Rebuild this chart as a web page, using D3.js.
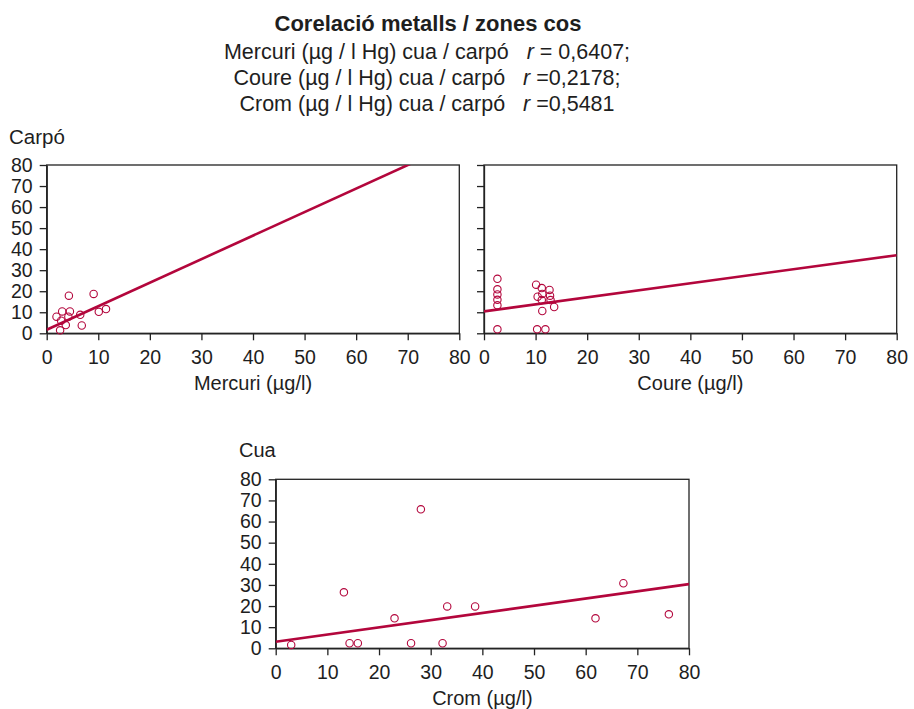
<!doctype html>
<html lang="ca">
<head>
  <meta charset="utf-8">
  <title>Corelació metalls / zones cos</title>
  <script src="https://d3js.org/d3.v7.min.js"></script>
  <style>
    body { margin: 0; background: #fff; }
    svg text { font-family: "Liberation Sans", Arial, sans-serif; fill: #1e1e1e; }
  </style>
</head>
<body>
  <div id="chart"></div>
  <script type="text/javascript">

    var width = 914, height = 709;

    // values
    var ticks = [0, 10, 20, 30, 40, 50, 60, 70, 80];

    var mercuriX = [1.9, 3.0, 4.5, 4.2, 2.8, 3.7, 2.6, 6.5, 6.8, 9.1, 4.3, 10.1, 11.5];
    var mercuriY = [7.9, 10.4, 10.4, 7.9, 6.0, 3.9, 1.4, 8.8, 3.7, 18.7, 17.9, 10.2, 11.5];

    var coureX = [2.6, 2.6, 2.6, 2.6, 2.6, 2.6, 10.1, 10.4, 11.2, 11.3, 11.2, 12.7, 12.8, 12.9, 13.6, 11.3, 10.3, 11.9];
    var coureY = [25.9, 20.9, 18.5, 15.9, 13.3, 1.9, 23.1, 17.4, 21.5, 18.7, 15.8, 20.6, 17.9, 15.8, 12.5, 10.6, 1.9, 1.9];

    var cromX = [3.0, 13.2, 14.3, 15.9, 23.0, 26.2, 28.1, 32.3, 33.2, 38.6, 61.9, 67.3, 76.1];
    var cromY = [1.6, 26.5, 2.4, 2.4, 14.2, 2.4, 65.8, 2.4, 19.8, 19.8, 14.2, 30.8, 16.1];

    // regression lines: carpó/cua = intercept + slope * x
    var intercepts = [1.7, 10.4, 3.1];
    var slopes = [1.118, 0.334, 0.341];

    var xLabels = ['Mercuri (µg/l)', 'Coure (µg/l)', 'Crom (µg/l)'];

    var red = '#b3063c', ink = '#222';

    var svg = d3.select('#chart')
                .append('svg')
                .attr('width', width)
                .attr('height', height);

    // titles
    svg.append('text')
       .attr('x', 428).attr('y', 31)
       .attr('text-anchor', 'middle')
       .style('font-size', '22px')
       .style('font-weight', 'bold')
       .text('Corelació metalls / zones cos');

    var sub = [['Mercuri (µg / l Hg) cua / carpó   ', 'r', ' = 0,6407;'],
               ['Coure (µg / l Hg) cua / carpó   ', 'r', ' =0,2178;'],
               ['Crom (µg / l Hg) cua / carpó   ', 'r', ' =0,5481']];
    sub.forEach(function(s, i) {
      var t = svg.append('text')
                 .attr('x', 427).attr('y', 58.5 + i * 26.3)
                 .attr('text-anchor', 'middle')
                 .style('font-size', '21.5px')
                 .attr('xml:space', 'preserve');
      t.append('tspan').text(s[0]);
      t.append('tspan').style('font-style', 'italic').text(s[1]);
      t.append('tspan').text(s[2]);
    });

    // one panel per metal
    var panels = [
      {left: 46.7, right: 459.3, top: 165, bottom: 333.3, xs: mercuriX, ys: mercuriY, yLabels: true},
      {left: 484, right: 896.7, top: 165, bottom: 333.3, xs: coureX, ys: coureY, yLabels: false},
      {left: 275.7, right: 689, top: 479.3, bottom: 648.3, xs: cromX, ys: cromY, yLabels: true}
    ];

    panels.forEach(function(p, i) {
      var x = d3.scaleLinear().domain([0, 80]).range([p.left, p.right]);
      var y = d3.scaleLinear().domain([0, 80]).range([p.bottom, p.top]);
      var g = svg.append('g');

      g.append('clipPath').attr('id', 'clip' + i)
        .append('rect')
        .attr('x', p.left).attr('y', p.top)
        .attr('width', p.right - p.left).attr('height', p.bottom - p.top);

      // frame
      g.append('rect')
        .attr('x', p.left).attr('y', p.top)
        .attr('width', p.right - p.left).attr('height', p.bottom - p.top)
        .attr('fill', 'none').attr('stroke', ink).attr('stroke-width', 1.3);

      var xAxis = g.append('g')
        .attr('transform', 'translate(0,' + p.bottom + ')')
        .call(d3.axisBottom(x).tickValues(ticks).tickSize(7).tickSizeOuter(0).tickPadding(10));
      var yAxis = g.append('g')
        .attr('transform', 'translate(' + p.left + ',0)')
        .call(d3.axisLeft(y).tickValues(ticks).tickSize(7).tickSizeOuter(0).tickPadding(7)
                .tickFormat(p.yLabels ? null : ''));

      [xAxis, yAxis].forEach(function(a) {
        a.select('.domain').attr('stroke', ink).attr('stroke-width', 1.3);
        a.selectAll('.tick line').attr('stroke', ink).attr('stroke-width', 1.3);
        a.selectAll('.tick text')
          .style('font-family', '"Liberation Sans", Arial, sans-serif')
          .style('font-size', '19.5px')
          .attr('fill', '#1e1e1e');
      });

      g.append('text')
        .attr('x', (p.left + p.right) / 2)
        .attr('y', p.bottom + 57)
        .attr('text-anchor', 'middle')
        .style('font-size', '20px')
        .text(xLabels[i]);

      // regression line
      g.append('line')
        .attr('clip-path', 'url(#clip' + i + ')')
        .attr('x1', x(0)).attr('y1', y(intercepts[i]))
        .attr('x2', x(80)).attr('y2', y(intercepts[i] + slopes[i] * 80))
        .attr('stroke', red).attr('stroke-width', 2.6);

      // points
      g.selectAll('.pt')
        .data(p.xs.map(function(d, j) { return [d, p.ys[j]]; }))
        .enter()
        .append('circle')
        .attr('class', 'pt')
        .attr('cx', function(d) { return x(d[0]); })
        .attr('cy', function(d) { return y(d[1]); })
        .attr('r', 3.7)
        .attr('fill', 'none')
        .attr('stroke', red)
        .attr('stroke-width', 1.1);
    });

    svg.append('text').attr('x', 9).attr('y', 144)
       .style('font-size', '20.5px').text('Carpó');
    svg.append('text').attr('x', 239).attr('y', 457)
       .style('font-size', '20px').text('Cua');

  </script>
</body>
</html>
